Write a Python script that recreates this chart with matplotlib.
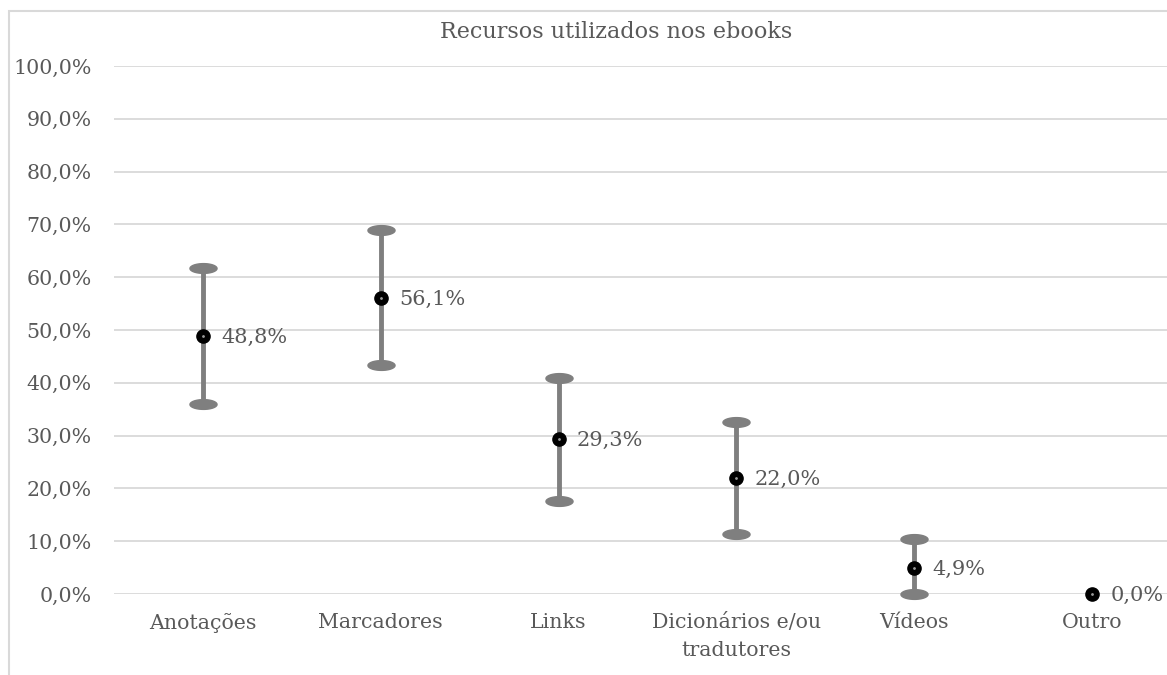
import numpy as np
import matplotlib
matplotlib.use("Agg")
import matplotlib.pyplot as plt
from matplotlib.patches import Rectangle
from matplotlib.path import Path

# dados
categorias = ["Anotações", "Marcadores", "Links", "Dicionários e/ou\ntradutores", "Vídeos", "Outro"]
valores = [48.8, 56.1, 29.3, 22.0, 4.9, 0.0]
erro_inf = [12.9, 12.8, 11.7, 10.6, 4.9, 0.0]
erro_sup = [12.9, 12.8, 11.7, 10.6, 5.6, 0.0]
rotulos = ["48,8%", "56,1%", "29,3%", "22,0%", "4,9%", "0,0%"]
yticks = np.arange(0, 101, 10)
ytick_labels = [("%.1f%%" % v).replace(".", ",") for v in yticks]

TXT = '#595959'
GRAY = '#7f7f7f'
plt.rcParams['font.family'] = ['DejaVu Serif']

# marcador eliptico para as pontas das barras de erro
t = np.linspace(0, 2*np.pi, 60)
elipse = Path(np.column_stack([np.cos(t), 0.36*np.sin(t)]), closed=True)

fig = plt.figure(figsize=(11.67, 6.75), dpi=100)
# moldura do grafico (sai pela direita e por baixo)
fig.patches.append(Rectangle((8.5/1167, -0.1), 1.2, 1.1 - 11.5/675,
                             transform=fig.transFigure, fill=False,
                             edgecolor='#d9d9d9', linewidth=1.5, zorder=0))

ax = fig.add_axes([114/1167, 1-594/675, (1181-114)/1167, (594-66)/675])
x = np.arange(len(categorias))
ax.set_xlim(-0.5, len(categorias) - 0.5)
ax.set_ylim(0, 100)

ax.set_yticks(yticks)
ax.set_yticklabels(ytick_labels)
ax.set_xticks(x)
ax.set_xticklabels(categorias, linespacing=1.6)
ax.tick_params(axis='both', length=0, labelsize=14.8, colors=TXT)
ax.tick_params(axis='y', pad=16)
ax.tick_params(axis='x', pad=14)
ax.grid(axis='y', color='#d9d9d9', linewidth=1.3)
ax.set_axisbelow(True)
for s in ax.spines.values():
    s.set_visible(False)

lo = np.array(valores) - np.array(erro_inf)
hi = np.array(valores) + np.array(erro_sup)
ax.vlines(x, lo, hi, color=GRAY, linewidth=3.5, zorder=3)
tem_erro = np.array(erro_sup) > 0
for yy in (lo, hi):
    ax.plot(x[tem_erro], yy[tem_erro], marker=elipse, markersize=19.5, color=GRAY,
            linestyle='none', zorder=3, clip_on=False)

ax.plot(x, valores, 'o', color='black', markersize=9.5, linestyle='none', zorder=5, clip_on=False)
ax.plot(x, valores, 'o', color='#9a9a9a', markersize=1.0, linestyle='none', zorder=6, clip_on=False)

for xi, v, r in zip(x, valores, rotulos):
    ax.annotate(r, (xi, v), xytext=(13, -1), textcoords='offset points',
                ha='left', va='center', fontsize=15, color=TXT, zorder=6)

fig.text(616/1167, 1-32/675, "Recursos utilizados nos ebooks", ha='center', va='center',
         fontsize=16, color=TXT)

plt.savefig("out.png", dpi=100)
